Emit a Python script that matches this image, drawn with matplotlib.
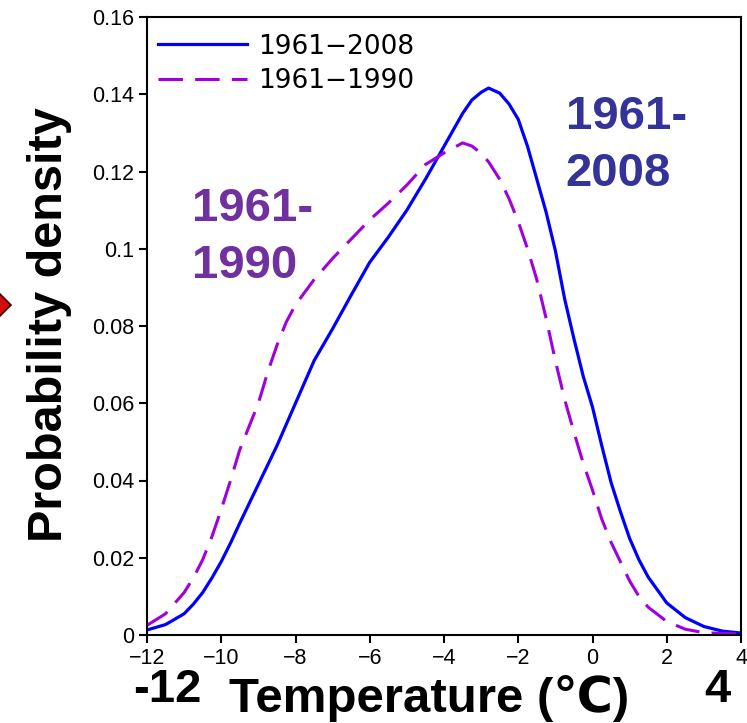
import matplotlib
matplotlib.use("Agg")
import matplotlib.pyplot as plt
from matplotlib.lines import Line2D

# temperature grid (deg C) and kernel density estimates
temp = [-12, -11.5, -11, -10.75, -10.5, -10.25, -10, -9.75, -9.5, -9.25, -9,
        -8.75, -8.5, -8.25, -8, -7.5, -7, -6.5, -6, -5.5, -5, -4.5, -4,
        -3.5, -3.25, -3, -2.8, -2.5, -2.25, -2, -1.75, -1.5, -1.25, -1,
        -0.75, -0.5, -0.25, 0, 0.25, 0.5, 0.75, 1, 1.25, 1.5, 2, 2.5, 3,
        3.5, 4]
pdf_2008 = [0.0013, 0.0027, 0.0055, 0.0080, 0.0110, 0.0148, 0.0190, 0.0238,
            0.0290, 0.0340, 0.0390, 0.0440, 0.0490, 0.0545, 0.0600, 0.0710,
            0.0793, 0.0880, 0.0965, 0.1030, 0.1100, 0.1180, 0.1265, 0.1350,
            0.1385, 0.1405, 0.1416, 0.1403, 0.1375, 0.1335, 0.1265, 0.1180,
            0.1095, 0.0995, 0.0870, 0.0767, 0.0670, 0.0590, 0.0490, 0.0395,
            0.0320, 0.0250, 0.0195, 0.0150, 0.0083, 0.0045, 0.0022, 0.0010,
            0.0005]
pdf_1990 = [0.0025, 0.0055, 0.0110, 0.0148, 0.0195, 0.0255, 0.0325, 0.0400,
            0.0480, 0.0540, 0.0600, 0.0680, 0.0750, 0.0810, 0.0855, 0.0920,
            0.0975, 0.1025, 0.1075, 0.1118, 0.1165, 0.1218, 0.1248, 0.1274,
            0.1266, 0.1247, 0.1225, 0.1180, 0.1130, 0.1070, 0.1000, 0.0920,
            0.0820, 0.0710, 0.0610, 0.0525, 0.0445, 0.0375, 0.0300, 0.0240,
            0.0190, 0.0140, 0.0100, 0.0072, 0.0035, 0.0015, 0.0006, 0.0004,
            0.0003]

xticks = [-12, -10, -8, -6, -4, -2, 0, 2, 4]
yticks = [0, 0.02, 0.04, 0.06, 0.08, 0.1, 0.12, 0.14, 0.16]
ytick_labels = ['0', '0.02', '0.04', '0.06', '0.08', '0.1', '0.12', '0.14', '0.16']

plt.rcParams['font.family'] = ['Liberation Sans', 'DejaVu Sans']

fig = plt.figure(figsize=(7.47, 7.23), dpi=100)
ax = fig.add_axes([147/747, 1 - 635/723, 594/747, 618/723])

ax.plot(temp, pdf_2008, color='#0000FF', lw=2.3, label='1961\u22122008')
ax.plot(temp, pdf_1990, color='#A000E0', lw=2.2, dashes=(8, 4),
        label='1961\u22121990')

ax.set_xlim(-12, 4)
ax.set_ylim(0, 0.16)
ax.set_xticks(xticks)
ax.set_xticklabels(['\u2212%d' % -t if t < 0 else str(t) for t in xticks])
ax.set_yticks(yticks)
ax.set_yticklabels(ytick_labels)
ax.tick_params(direction='out', length=6, width=1.5, labelsize=15.5, pad=3)
for s in ax.spines.values():
    s.set_linewidth(1.5)

leg = ax.legend(loc='upper left', bbox_to_anchor=(0, 0.99), frameon=False,
                handlelength=3.4, prop={'family': 'DejaVu Sans', 'size': 19},
                borderaxespad=0.1, borderpad=0.3, labelspacing=0.33,
                handletextpad=0.4)

ax.text(-10.8, 0.1160, '1961-\n1990', color='#7030A0', fontsize=34,
        fontweight='bold', ha='left', va='top', linespacing=1.38)
ax.text(-0.72, 0.1398, '1961-\n2008', color='#333399', fontsize=34,
        fontweight='bold', ha='left', va='top', linespacing=1.38)

fig.text(50/747, 1 - 325/723, 'Probability density', rotation=90,
         fontsize=35, fontweight='bold', ha='center', va='center')
fig.text(429/747, 1 - 712/723, 'Temperature (\u2103)', fontsize=35.5,
         fontweight='bold', ha='center', va='baseline')
fig.text(167/747, 1 - 702/723, '-12', fontsize=34, fontweight='bold',
         ha='center', va='baseline')
fig.text(717/747, 1 - 702/723, '4', fontsize=34, fontweight='bold',
         ha='center', va='baseline')

fig.add_artist(Line2D([-4/747], [1 - 305/723], marker='D', markersize=15,
                      color='#D01010', markeredgecolor='#400000',
                      markeredgewidth=1.2, transform=fig.transFigure))

fig.savefig('out.png', dpi=100)
